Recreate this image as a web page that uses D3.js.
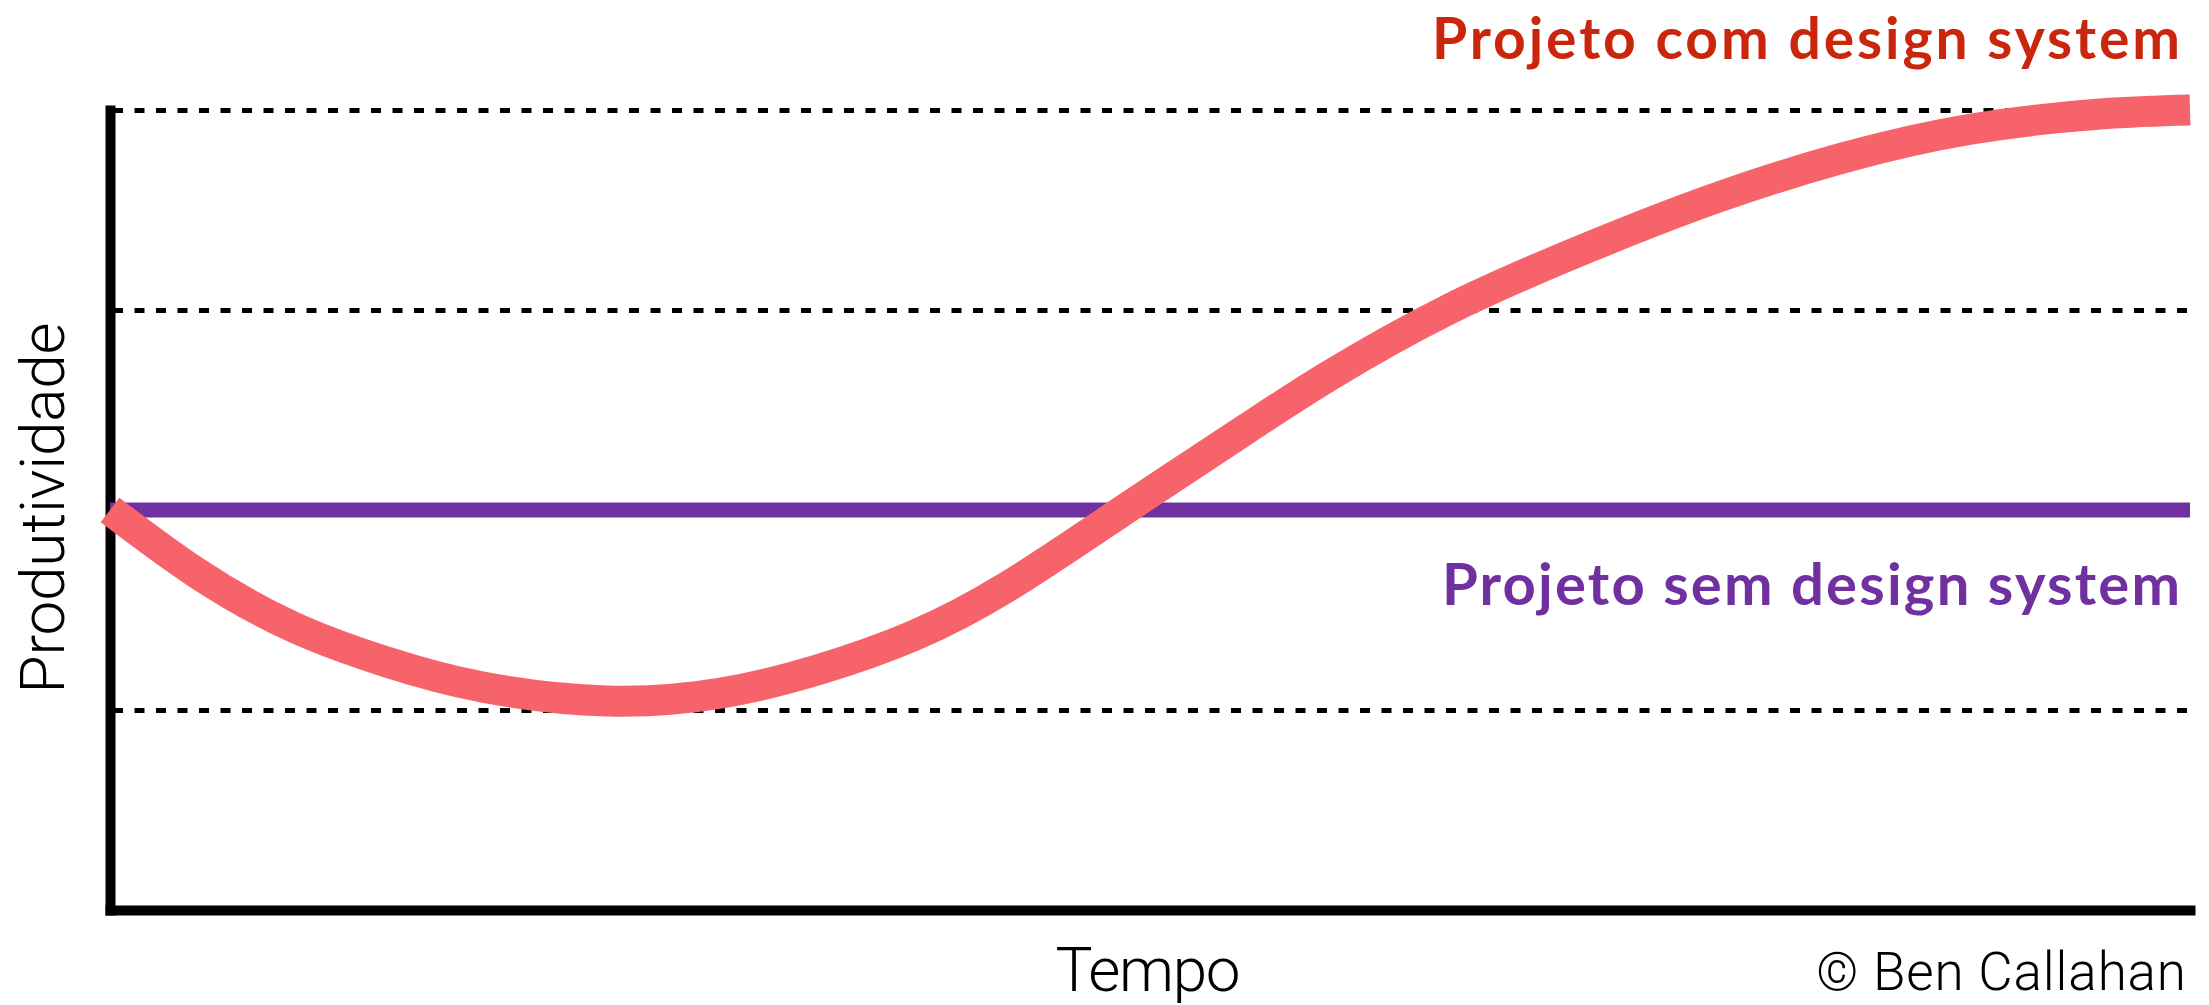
<!DOCTYPE html>
<html>
<head>
<meta charset="utf-8">
<script src="https://cdn.jsdelivr.net/npm/d3@7"></script>
<style>
body { margin: 0; background: #fff; }
.grid line { stroke: #000; stroke-width: 5; stroke-dasharray: 10 11.5; }
.grid path { stroke-width: 0; }
.axis path { stroke: #000; stroke-width: 10; }
.light { font-family: Roboto, "Open Sans", sans-serif; font-weight: 300; fill: #000; }
.label { font-family: Lato, "Noto Sans", sans-serif; font-weight: 700; }
</style>
</head>
<body>
<div id="chart"></div>
<script>

var width = 2209;
var height = 1005;
var margin = ({top: 110, right: 19, bottom: 95, left: 110});

// tempo (0-100) and produtividade
var tempo = [0, 4.1, 8.7, 13.3, 17.9, 23.9, 29.4, 34.0, 38.6, 43.2, 48.75,
             54.7, 58.6, 64.3, 71.0, 77.2, 83.3, 89.5, 95.7, 100];
var comDS = [2.0, 1.69, 1.42, 1.24, 1.115, 1.045, 1.085, 1.2, 1.37, 1.62, 2.0,
             2.41, 2.67, 3.0, 3.31, 3.56, 3.76, 3.905, 3.98, 4.0];
var semDS = [2.0, 2.0];
var semTempo = [0, 100];
var gridValues = [1, 2, 3, 4];

var svg = d3.select("#chart")
  .append("svg")
    .attr("width", width)
    .attr("height", height);

var x_scale = d3.scaleLinear()
    .domain([0, 100])
    .range([margin.left, width - margin.right]);

var y_scale = d3.scaleLinear()
    .domain([0, 4])
    .range([height - margin.bottom, margin.top]);

// axes (no ticks, just thick lines)
svg.append("g")
    .attr("class", "axis")
    .attr("transform", `translate(0,${height - margin.bottom})`)
    .call(d3.axisBottom(x_scale).tickValues([]).tickSizeOuter(0));
svg.append("g")
    .attr("class", "axis")
    .attr("transform", `translate(${margin.left},0)`)
    .call(d3.axisLeft(y_scale).tickValues([]).tickSizeOuter(0));
svg.selectAll(".axis path").attr("stroke-linecap", "square");

// dashed grid
svg.append("g")
    .attr("class", "grid")
    .attr("transform", `translate(${margin.left + 3},0)`)
    .call(
        d3.axisLeft(y_scale)
            .tickValues(gridValues)
            .tickSize(-(width - margin.right - margin.left - 3))
            .tickFormat("")
    );

var line = d3.line()
    .x(d => x_scale(d[0]))
    .y(d => y_scale(d[1]));

svg.append("path")
    .datum(d3.zip(semTempo, semDS))
    .attr("fill", "none")
    .attr("stroke", "#7030a0")
    .attr("stroke-width", 15)
    .attr("d", line);

svg.append("path")
    .datum(d3.zip(tempo, comDS))
    .attr("fill", "none")
    .attr("stroke", "#f6636a")
    .attr("stroke-width", 31)
    .attr("stroke-linecap", "butt")
    .attr("d", line.curve(d3.curveNatural));

svg.append("text")
    .attr("class", "label")
    .attr("fill", "#c9260c")
    .attr("text-anchor", "end")
    .attr("x", 2180).attr("y", 59)
    .attr("font-size", 57)
    .attr("textLength", 748)
    .attr("lengthAdjust", "spacing")
    .text("Projeto com design system");

svg.append("text")
    .attr("class", "label")
    .attr("fill", "#7030a0")
    .attr("text-anchor", "end")
    .attr("x", 2180).attr("y", 605)
    .attr("font-size", 58)
    .attr("textLength", 738)
    .attr("lengthAdjust", "spacing")
    .text("Projeto sem design system");

svg.append("text")
    .attr("class", "light")
    .attr("text-anchor", "middle")
    .attr("transform", "translate(64,508) rotate(-90)")
    .attr("font-size", 62)
    .attr("textLength", 371)
    .attr("lengthAdjust", "spacing")
    .text("Produtividade");

svg.append("text")
    .attr("class", "light")
    .attr("text-anchor", "middle")
    .attr("x", 1148).attr("y", 991)
    .attr("font-size", 62)
    .attr("textLength", 185)
    .attr("lengthAdjust", "spacing")
    .text("Tempo");

svg.append("text")
    .attr("class", "light")
    .attr("text-anchor", "end")
    .attr("x", 2186).attr("y", 990)
    .attr("font-size", 53)
    .attr("textLength", 370)
    .attr("lengthAdjust", "spacing")
    .text("© Ben Callahan");

</script>
</body>
</html>
